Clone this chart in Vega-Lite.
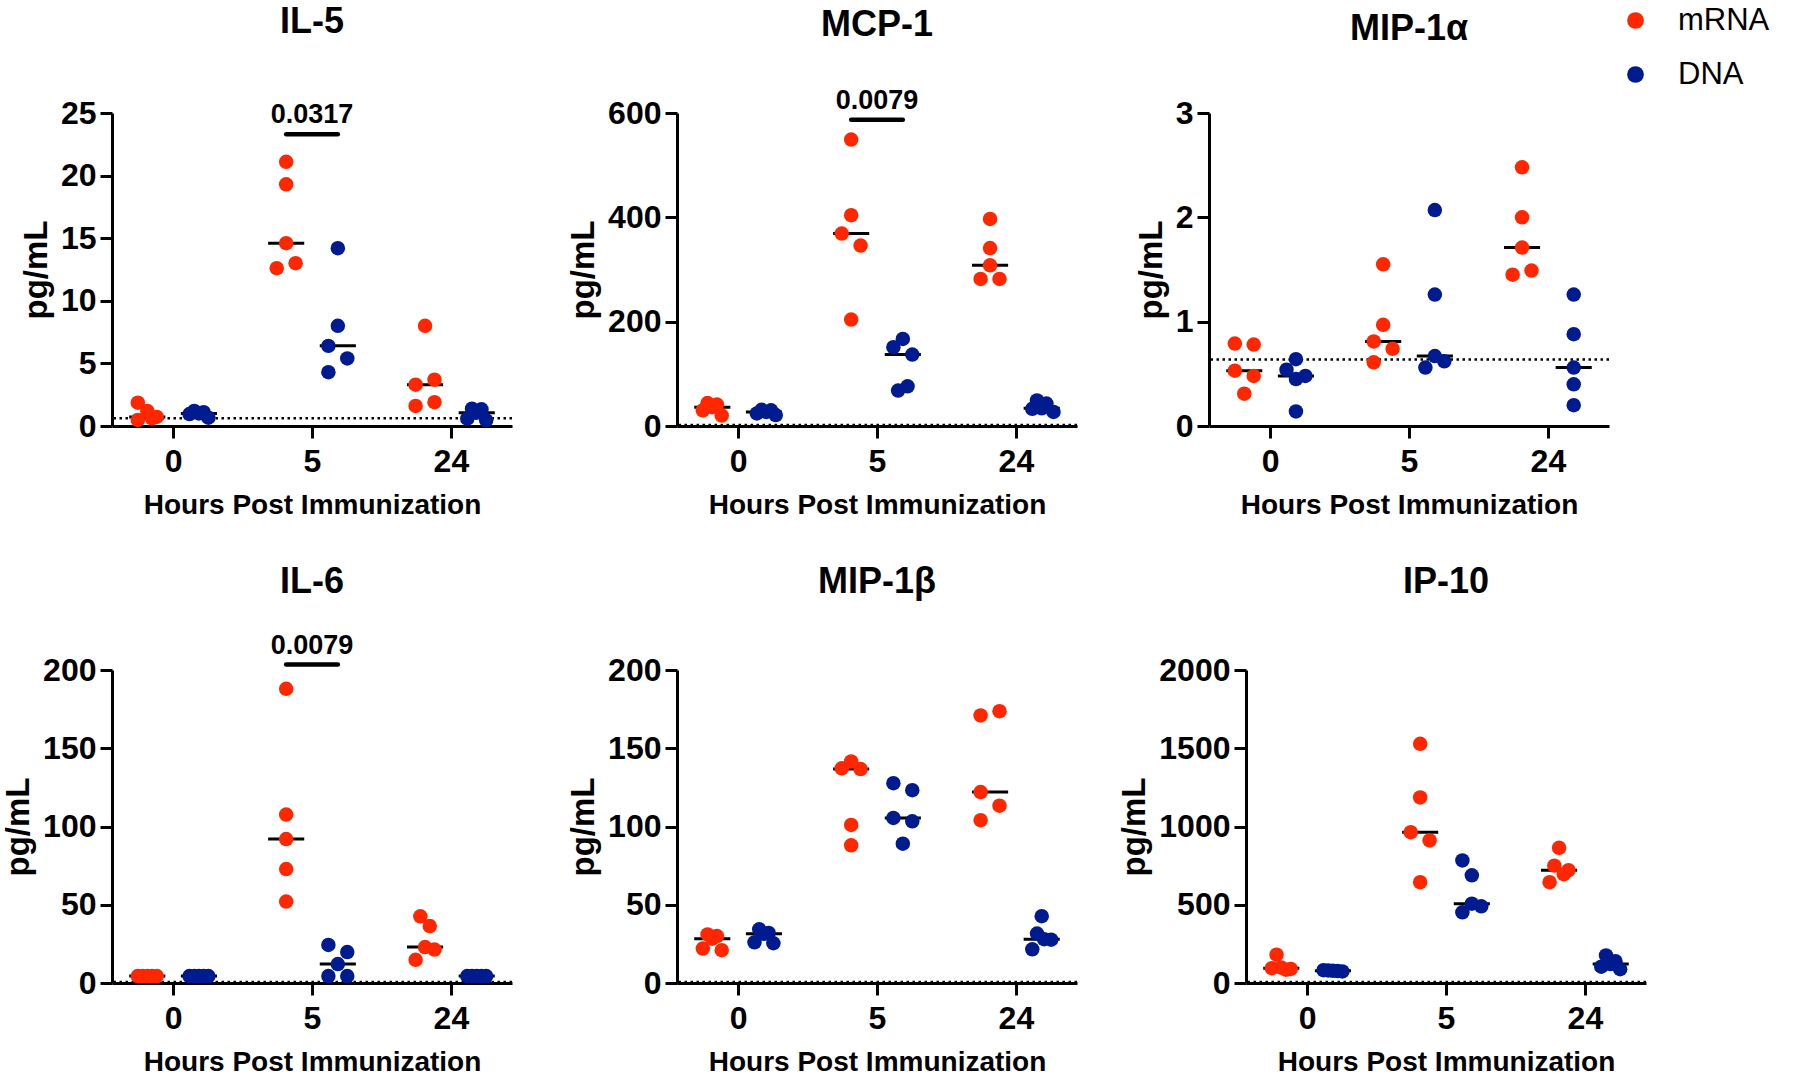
{
  "$schema": "https://vega.github.io/schema/vega-lite/v6.json",
  "background": "white",
  "padding": {"left": 2, "top": 4, "right": 0, "bottom": 0},
  "config": {
    "view": {"stroke": null},
    "font": "Liberation Sans",
    "axis": {"domainColor": "black", "domainWidth": 3, "tickColor": "black", "tickWidth": 3, "tickSize": 12, "labelColor": "black", "labelFont": "Liberation Sans", "labelFontSize": 32, "labelFontWeight": "bold", "titleColor": "black", "titleFont": "Liberation Sans", "titleFontWeight": "bold", "grid": false},
    "axisX": {"labelPadding": 8, "titlePadding": 14, "labelAngle": 0, "titleFontSize": 28},
    "axisY": {"labelPadding": 4, "titlePadding": 7, "titleFontSize": 33, "format": "d"},
    "title": {"font": "Liberation Sans", "fontSize": 36, "fontWeight": "bold", "color": "black", "anchor": "middle", "frame": "group", "baseline": "alphabetic"}
  },
  "datasets": {
    "pts": [
      {"panel": "IL-5", "hour": 0, "group": "mRNA", "v": 1.86, "lane": -2},
      {"panel": "IL-5", "hour": 0, "group": "mRNA", "v": 1.2, "lane": 0},
      {"panel": "IL-5", "hour": 0, "group": "mRNA", "v": 0.48, "lane": -2},
      {"panel": "IL-5", "hour": 0, "group": "mRNA", "v": 0.61, "lane": 1},
      {"panel": "IL-5", "hour": 0, "group": "mRNA", "v": 0.72, "lane": 2},
      {"panel": "IL-5", "hour": 0, "group": "DNA", "v": 1.2, "lane": -1},
      {"panel": "IL-5", "hour": 0, "group": "DNA", "v": 1.1, "lane": 1},
      {"panel": "IL-5", "hour": 0, "group": "DNA", "v": 1.0, "lane": 0},
      {"panel": "IL-5", "hour": 0, "group": "DNA", "v": 0.95, "lane": -2},
      {"panel": "IL-5", "hour": 0, "group": "DNA", "v": 0.66, "lane": 2},
      {"panel": "IL-5", "hour": 5, "group": "mRNA", "v": 21.1, "lane": 0},
      {"panel": "IL-5", "hour": 5, "group": "mRNA", "v": 19.3, "lane": 0},
      {"panel": "IL-5", "hour": 5, "group": "mRNA", "v": 14.6, "lane": 0},
      {"panel": "IL-5", "hour": 5, "group": "mRNA", "v": 12.6, "lane": -2},
      {"panel": "IL-5", "hour": 5, "group": "mRNA", "v": 13.0, "lane": 2},
      {"panel": "IL-5", "hour": 5, "group": "DNA", "v": 14.2, "lane": 0},
      {"panel": "IL-5", "hour": 5, "group": "DNA", "v": 8.0, "lane": 0},
      {"panel": "IL-5", "hour": 5, "group": "DNA", "v": 6.4, "lane": -2},
      {"panel": "IL-5", "hour": 5, "group": "DNA", "v": 5.4, "lane": 2},
      {"panel": "IL-5", "hour": 5, "group": "DNA", "v": 4.3, "lane": -2},
      {"panel": "IL-5", "hour": 24, "group": "mRNA", "v": 8.0, "lane": 0},
      {"panel": "IL-5", "hour": 24, "group": "mRNA", "v": 3.3, "lane": -2},
      {"panel": "IL-5", "hour": 24, "group": "mRNA", "v": 3.7, "lane": 2},
      {"panel": "IL-5", "hour": 24, "group": "mRNA", "v": 1.6, "lane": -2},
      {"panel": "IL-5", "hour": 24, "group": "mRNA", "v": 1.9, "lane": 2},
      {"panel": "IL-5", "hour": 24, "group": "DNA", "v": 1.38, "lane": -1},
      {"panel": "IL-5", "hour": 24, "group": "DNA", "v": 1.33, "lane": 1},
      {"panel": "IL-5", "hour": 24, "group": "DNA", "v": 1.06, "lane": 0},
      {"panel": "IL-5", "hour": 24, "group": "DNA", "v": 0.58, "lane": -2},
      {"panel": "IL-5", "hour": 24, "group": "DNA", "v": 0.45, "lane": 2},

      {"panel": "MCP-1", "hour": 0, "group": "mRNA", "v": 44, "lane": -1},
      {"panel": "MCP-1", "hour": 0, "group": "mRNA", "v": 41, "lane": 1},
      {"panel": "MCP-1", "hour": 0, "group": "mRNA", "v": 36, "lane": 0},
      {"panel": "MCP-1", "hour": 0, "group": "mRNA", "v": 30, "lane": -2},
      {"panel": "MCP-1", "hour": 0, "group": "mRNA", "v": 20, "lane": 2},
      {"panel": "MCP-1", "hour": 0, "group": "DNA", "v": 31, "lane": -0.5},
      {"panel": "MCP-1", "hour": 0, "group": "DNA", "v": 30, "lane": 1.5},
      {"panel": "MCP-1", "hour": 0, "group": "DNA", "v": 27, "lane": 0.5},
      {"panel": "MCP-1", "hour": 0, "group": "DNA", "v": 24, "lane": -1.5},
      {"panel": "MCP-1", "hour": 0, "group": "DNA", "v": 21, "lane": 2.5},
      {"panel": "MCP-1", "hour": 5, "group": "mRNA", "v": 549, "lane": 0},
      {"panel": "MCP-1", "hour": 5, "group": "mRNA", "v": 404, "lane": 0},
      {"panel": "MCP-1", "hour": 5, "group": "mRNA", "v": 369, "lane": -2},
      {"panel": "MCP-1", "hour": 5, "group": "mRNA", "v": 346, "lane": 2},
      {"panel": "MCP-1", "hour": 5, "group": "mRNA", "v": 204, "lane": 0},
      {"panel": "MCP-1", "hour": 5, "group": "DNA", "v": 167, "lane": 0},
      {"panel": "MCP-1", "hour": 5, "group": "DNA", "v": 151, "lane": -2},
      {"panel": "MCP-1", "hour": 5, "group": "DNA", "v": 137, "lane": 2},
      {"panel": "MCP-1", "hour": 5, "group": "DNA", "v": 76, "lane": 1},
      {"panel": "MCP-1", "hour": 5, "group": "DNA", "v": 68, "lane": -1},
      {"panel": "MCP-1", "hour": 24, "group": "mRNA", "v": 397, "lane": 0},
      {"panel": "MCP-1", "hour": 24, "group": "mRNA", "v": 341, "lane": 0},
      {"panel": "MCP-1", "hour": 24, "group": "mRNA", "v": 308, "lane": 0},
      {"panel": "MCP-1", "hour": 24, "group": "mRNA", "v": 282, "lane": -2},
      {"panel": "MCP-1", "hour": 24, "group": "mRNA", "v": 282, "lane": 2},
      {"panel": "MCP-1", "hour": 24, "group": "DNA", "v": 49, "lane": -1},
      {"panel": "MCP-1", "hour": 24, "group": "DNA", "v": 43, "lane": 1},
      {"panel": "MCP-1", "hour": 24, "group": "DNA", "v": 34, "lane": 0},
      {"panel": "MCP-1", "hour": 24, "group": "DNA", "v": 33, "lane": -2},
      {"panel": "MCP-1", "hour": 24, "group": "DNA", "v": 27, "lane": 2.5},

      {"panel": "MIP-1α", "hour": 0, "group": "mRNA", "v": 0.79, "lane": -2},
      {"panel": "MIP-1α", "hour": 0, "group": "mRNA", "v": 0.78, "lane": 2},
      {"panel": "MIP-1α", "hour": 0, "group": "mRNA", "v": 0.53, "lane": -2},
      {"panel": "MIP-1α", "hour": 0, "group": "mRNA", "v": 0.48, "lane": 2},
      {"panel": "MIP-1α", "hour": 0, "group": "mRNA", "v": 0.31, "lane": 0},
      {"panel": "MIP-1α", "hour": 0, "group": "DNA", "v": 0.64, "lane": 0},
      {"panel": "MIP-1α", "hour": 0, "group": "DNA", "v": 0.54, "lane": -2},
      {"panel": "MIP-1α", "hour": 0, "group": "DNA", "v": 0.48, "lane": 2},
      {"panel": "MIP-1α", "hour": 0, "group": "DNA", "v": 0.45, "lane": 0},
      {"panel": "MIP-1α", "hour": 0, "group": "DNA", "v": 0.14, "lane": 0},
      {"panel": "MIP-1α", "hour": 5, "group": "mRNA", "v": 1.55, "lane": 0},
      {"panel": "MIP-1α", "hour": 5, "group": "mRNA", "v": 0.97, "lane": 0},
      {"panel": "MIP-1α", "hour": 5, "group": "mRNA", "v": 0.81, "lane": -2},
      {"panel": "MIP-1α", "hour": 5, "group": "mRNA", "v": 0.74, "lane": 2},
      {"panel": "MIP-1α", "hour": 5, "group": "mRNA", "v": 0.61, "lane": -2},
      {"panel": "MIP-1α", "hour": 5, "group": "DNA", "v": 2.07, "lane": 0},
      {"panel": "MIP-1α", "hour": 5, "group": "DNA", "v": 1.26, "lane": 0},
      {"panel": "MIP-1α", "hour": 5, "group": "DNA", "v": 0.67, "lane": 0},
      {"panel": "MIP-1α", "hour": 5, "group": "DNA", "v": 0.62, "lane": 2},
      {"panel": "MIP-1α", "hour": 5, "group": "DNA", "v": 0.56, "lane": -2},
      {"panel": "MIP-1α", "hour": 24, "group": "mRNA", "v": 2.48, "lane": 0},
      {"panel": "MIP-1α", "hour": 24, "group": "mRNA", "v": 2.0, "lane": 0},
      {"panel": "MIP-1α", "hour": 24, "group": "mRNA", "v": 1.71, "lane": 0},
      {"panel": "MIP-1α", "hour": 24, "group": "mRNA", "v": 1.45, "lane": -2},
      {"panel": "MIP-1α", "hour": 24, "group": "mRNA", "v": 1.49, "lane": 2},
      {"panel": "MIP-1α", "hour": 24, "group": "DNA", "v": 1.26, "lane": 0},
      {"panel": "MIP-1α", "hour": 24, "group": "DNA", "v": 0.88, "lane": 0},
      {"panel": "MIP-1α", "hour": 24, "group": "DNA", "v": 0.56, "lane": 0},
      {"panel": "MIP-1α", "hour": 24, "group": "DNA", "v": 0.40, "lane": 0},
      {"panel": "MIP-1α", "hour": 24, "group": "DNA", "v": 0.20, "lane": 0},

      {"panel": "IL-6", "hour": 0, "group": "mRNA", "v": 4.4, "lane": -2},
      {"panel": "IL-6", "hour": 0, "group": "mRNA", "v": 4.4, "lane": -1},
      {"panel": "IL-6", "hour": 0, "group": "mRNA", "v": 4.4, "lane": 0},
      {"panel": "IL-6", "hour": 0, "group": "mRNA", "v": 4.4, "lane": 1},
      {"panel": "IL-6", "hour": 0, "group": "mRNA", "v": 4.4, "lane": 2},
      {"panel": "IL-6", "hour": 0, "group": "DNA", "v": 4.4, "lane": -2},
      {"panel": "IL-6", "hour": 0, "group": "DNA", "v": 4.4, "lane": -1},
      {"panel": "IL-6", "hour": 0, "group": "DNA", "v": 4.4, "lane": 0},
      {"panel": "IL-6", "hour": 0, "group": "DNA", "v": 4.4, "lane": 1},
      {"panel": "IL-6", "hour": 0, "group": "DNA", "v": 4.4, "lane": 2},
      {"panel": "IL-6", "hour": 5, "group": "mRNA", "v": 188, "lane": 0},
      {"panel": "IL-6", "hour": 5, "group": "mRNA", "v": 107.6, "lane": 0},
      {"panel": "IL-6", "hour": 5, "group": "mRNA", "v": 92, "lane": 0},
      {"panel": "IL-6", "hour": 5, "group": "mRNA", "v": 72.8, "lane": 0},
      {"panel": "IL-6", "hour": 5, "group": "mRNA", "v": 52, "lane": 0},
      {"panel": "IL-6", "hour": 5, "group": "DNA", "v": 24.3, "lane": -2},
      {"panel": "IL-6", "hour": 5, "group": "DNA", "v": 19.8, "lane": 2},
      {"panel": "IL-6", "hour": 5, "group": "DNA", "v": 12.1, "lane": 0},
      {"panel": "IL-6", "hour": 5, "group": "DNA", "v": 4.4, "lane": -2},
      {"panel": "IL-6", "hour": 5, "group": "DNA", "v": 4.4, "lane": 2},
      {"panel": "IL-6", "hour": 24, "group": "mRNA", "v": 42.6, "lane": -1},
      {"panel": "IL-6", "hour": 24, "group": "mRNA", "v": 36.4, "lane": 1},
      {"panel": "IL-6", "hour": 24, "group": "mRNA", "v": 23, "lane": 0},
      {"panel": "IL-6", "hour": 24, "group": "mRNA", "v": 21.4, "lane": 2},
      {"panel": "IL-6", "hour": 24, "group": "mRNA", "v": 14.8, "lane": -2},
      {"panel": "IL-6", "hour": 24, "group": "DNA", "v": 4.4, "lane": -2},
      {"panel": "IL-6", "hour": 24, "group": "DNA", "v": 4.4, "lane": -1},
      {"panel": "IL-6", "hour": 24, "group": "DNA", "v": 4.4, "lane": 0},
      {"panel": "IL-6", "hour": 24, "group": "DNA", "v": 4.4, "lane": 1},
      {"panel": "IL-6", "hour": 24, "group": "DNA", "v": 4.4, "lane": 2},

      {"panel": "MIP-1β", "hour": 0, "group": "mRNA", "v": 31, "lane": -1},
      {"panel": "MIP-1β", "hour": 0, "group": "mRNA", "v": 30, "lane": 1},
      {"panel": "MIP-1β", "hour": 0, "group": "mRNA", "v": 28.3, "lane": 0},
      {"panel": "MIP-1β", "hour": 0, "group": "mRNA", "v": 22, "lane": -2},
      {"panel": "MIP-1β", "hour": 0, "group": "mRNA", "v": 21, "lane": 2},
      {"panel": "MIP-1β", "hour": 0, "group": "DNA", "v": 34.3, "lane": -1},
      {"panel": "MIP-1β", "hour": 0, "group": "DNA", "v": 32, "lane": 1},
      {"panel": "MIP-1β", "hour": 0, "group": "DNA", "v": 31.4, "lane": 0},
      {"panel": "MIP-1β", "hour": 0, "group": "DNA", "v": 26, "lane": -2},
      {"panel": "MIP-1β", "hour": 0, "group": "DNA", "v": 25.4, "lane": 2},
      {"panel": "MIP-1β", "hour": 5, "group": "mRNA", "v": 141.6, "lane": 0},
      {"panel": "MIP-1β", "hour": 5, "group": "mRNA", "v": 137.2, "lane": -2},
      {"panel": "MIP-1β", "hour": 5, "group": "mRNA", "v": 136.7, "lane": 2},
      {"panel": "MIP-1β", "hour": 5, "group": "mRNA", "v": 101, "lane": 0},
      {"panel": "MIP-1β", "hour": 5, "group": "mRNA", "v": 88, "lane": 0},
      {"panel": "MIP-1β", "hour": 5, "group": "DNA", "v": 127.7, "lane": -2},
      {"panel": "MIP-1β", "hour": 5, "group": "DNA", "v": 123.2, "lane": 2},
      {"panel": "MIP-1β", "hour": 5, "group": "DNA", "v": 105.5, "lane": -2},
      {"panel": "MIP-1β", "hour": 5, "group": "DNA", "v": 103.3, "lane": 2},
      {"panel": "MIP-1β", "hour": 5, "group": "DNA", "v": 89, "lane": 0},
      {"panel": "MIP-1β", "hour": 24, "group": "mRNA", "v": 173.7, "lane": 2},
      {"panel": "MIP-1β", "hour": 24, "group": "mRNA", "v": 171, "lane": -2},
      {"panel": "MIP-1β", "hour": 24, "group": "mRNA", "v": 122, "lane": -2},
      {"panel": "MIP-1β", "hour": 24, "group": "mRNA", "v": 113.3, "lane": 2},
      {"panel": "MIP-1β", "hour": 24, "group": "mRNA", "v": 104, "lane": -2},
      {"panel": "MIP-1β", "hour": 24, "group": "DNA", "v": 42.7, "lane": 0},
      {"panel": "MIP-1β", "hour": 24, "group": "DNA", "v": 31.6, "lane": -1},
      {"panel": "MIP-1β", "hour": 24, "group": "DNA", "v": 28, "lane": 0.5},
      {"panel": "MIP-1β", "hour": 24, "group": "DNA", "v": 27.7, "lane": 2},
      {"panel": "MIP-1β", "hour": 24, "group": "DNA", "v": 21.5, "lane": -2},

      {"panel": "IP-10", "hour": 0, "group": "mRNA", "v": 181, "lane": -1},
      {"panel": "IP-10", "hour": 0, "group": "mRNA", "v": 99, "lane": 0},
      {"panel": "IP-10", "hour": 0, "group": "mRNA", "v": 95, "lane": -2},
      {"panel": "IP-10", "hour": 0, "group": "mRNA", "v": 90, "lane": 2},
      {"panel": "IP-10", "hour": 0, "group": "mRNA", "v": 85, "lane": 1},
      {"panel": "IP-10", "hour": 0, "group": "DNA", "v": 82, "lane": -2},
      {"panel": "IP-10", "hour": 0, "group": "DNA", "v": 80, "lane": -1},
      {"panel": "IP-10", "hour": 0, "group": "DNA", "v": 78, "lane": 0},
      {"panel": "IP-10", "hour": 0, "group": "DNA", "v": 76, "lane": 1},
      {"panel": "IP-10", "hour": 0, "group": "DNA", "v": 74, "lane": 2},
      {"panel": "IP-10", "hour": 5, "group": "mRNA", "v": 1528, "lane": 0},
      {"panel": "IP-10", "hour": 5, "group": "mRNA", "v": 1186, "lane": 0},
      {"panel": "IP-10", "hour": 5, "group": "mRNA", "v": 964, "lane": -2},
      {"panel": "IP-10", "hour": 5, "group": "mRNA", "v": 911, "lane": 2},
      {"panel": "IP-10", "hour": 5, "group": "mRNA", "v": 644, "lane": 0},
      {"panel": "IP-10", "hour": 5, "group": "DNA", "v": 783, "lane": -2},
      {"panel": "IP-10", "hour": 5, "group": "DNA", "v": 688, "lane": 0},
      {"panel": "IP-10", "hour": 5, "group": "DNA", "v": 507, "lane": 0},
      {"panel": "IP-10", "hour": 5, "group": "DNA", "v": 490, "lane": 2},
      {"panel": "IP-10", "hour": 5, "group": "DNA", "v": 452, "lane": -2},
      {"panel": "IP-10", "hour": 24, "group": "mRNA", "v": 864, "lane": 0},
      {"panel": "IP-10", "hour": 24, "group": "mRNA", "v": 750, "lane": -1},
      {"panel": "IP-10", "hour": 24, "group": "mRNA", "v": 721, "lane": 2},
      {"panel": "IP-10", "hour": 24, "group": "mRNA", "v": 695, "lane": 1},
      {"panel": "IP-10", "hour": 24, "group": "mRNA", "v": 644, "lane": -2},
      {"panel": "IP-10", "hour": 24, "group": "DNA", "v": 176, "lane": -1},
      {"panel": "IP-10", "hour": 24, "group": "DNA", "v": 139, "lane": 1},
      {"panel": "IP-10", "hour": 24, "group": "DNA", "v": 121, "lane": 0},
      {"panel": "IP-10", "hour": 24, "group": "DNA", "v": 104, "lane": -2},
      {"panel": "IP-10", "hour": 24, "group": "DNA", "v": 88, "lane": 2}
    ],
    "lod": [
      {"panel": "IL-5", "v": 0.61},
      {"panel": "MCP-1", "v": 2},
      {"panel": "MIP-1α", "v": 0.637},
      {"panel": "IL-6", "v": 0.7},
      {"panel": "MIP-1β", "v": 0.7},
      {"panel": "IP-10", "v": 7}
    ],
    "sig": [
      {"panel": "IL-5", "hour": 5, "p": "0.0317", "v": 23.3},
      {"panel": "MCP-1", "hour": 5, "p": "0.0079", "v": 587},
      {"panel": "IL-6", "hour": 5, "p": "0.0079", "v": 203.5}
    ]
  },
  "resolve": {"scale": {"color": "independent"}, "legend": {"color": "independent"}},
  "bounds": "flush",
  "spacing": 557,
  "vconcat": [
    {
      "bounds": "flush",
      "spacing": 165,
      "resolve": {"scale": {"color": "independent"}, "legend": {"color": "independent"}},
      "hconcat": [
        {
          "width": 400, "height": 313,
          "title": {"text": "IL-5", "offset": 56},
          "layer": [
            {"data": {"name": "lod"}, "transform": [{"filter": "datum.panel == 'IL-5'"}], "mark": {"type": "rule", "color": "black", "strokeWidth": 2.5, "strokeDash": [2.5, 3.5]}, "encoding": {"y": {"field": "v", "type": "quantitative", "scale": {"domain": [0, 25], "nice": false}}}},
            {"data": {"name": "pts"}, "transform": [{"filter": "datum.panel == 'IL-5'"}, {"aggregate": [{"op": "median", "field": "v", "as": "v"}], "groupby": ["hour", "group"]}, {"calculate": "indexof([0,5,24], datum.hour) + (datum.group == 'mRNA' ? -0.186 : 0.186)", "as": "c"}, {"calculate": "datum.c - 0.13", "as": "xp"}, {"calculate": "datum.c + 0.13", "as": "xe"}], "mark": {"type": "rule", "color": "black", "strokeWidth": 3}, "encoding": {"x": {"field": "xp", "type": "quantitative", "scale": {"domain": [-0.44, 2.44], "nice": false, "zero": false}}, "x2": {"field": "xe"}, "y": {"field": "v", "type": "quantitative", "scale": {"domain": [0, 25], "nice": false}}}},
            {"data": {"name": "pts"}, "transform": [{"filter": "datum.panel == 'IL-5'"}, {"calculate": "indexof([0,5,24], datum.hour) + (datum.group == 'mRNA' ? -0.186 : 0.186) + datum.lane * 0.034", "as": "xp"}], "mark": {"type": "circle", "size": 210, "opacity": 1}, "encoding": {"x": {"field": "xp", "type": "quantitative", "scale": {"domain": [-0.44, 2.44], "nice": false, "zero": false}, "axis": {"title": "Hours Post Immunization", "values": [0, 1, 2], "labelExpr": "datum.value == 0 ? '0' : datum.value == 1 ? '5' : '24'"}}, "y": {"field": "v", "type": "quantitative", "scale": {"domain": [0, 25], "nice": false}, "axis": {"title": "pg/mL", "values": [0, 5, 10, 15, 20, 25]}}, "color": {"field": "group", "type": "nominal", "scale": {"domain": ["mRNA", "DNA"], "range": ["#FF2700", "#001A8F"]}, "legend": null}}},
            {"data": {"name": "sig"}, "transform": [{"filter": "datum.panel == 'IL-5'"}, {"calculate": "indexof([0,5,24], datum.hour) - 0.186", "as": "xp"}, {"calculate": "indexof([0,5,24], datum.hour) + 0.186", "as": "xe"}], "mark": {"type": "rule", "color": "black", "strokeWidth": 4.5, "strokeCap": "round"}, "encoding": {"x": {"field": "xp", "type": "quantitative", "scale": {"domain": [-0.44, 2.44], "nice": false, "zero": false}}, "x2": {"field": "xe"}, "y": {"field": "v", "type": "quantitative", "scale": {"domain": [0, 25], "nice": false}}}},
            {"data": {"name": "sig"}, "transform": [{"filter": "datum.panel == 'IL-5'"}, {"calculate": "indexof([0,5,24], datum.hour)", "as": "xp"}], "mark": {"type": "text", "color": "black", "font": "Liberation Sans", "fontSize": 27, "fontWeight": "bold", "baseline": "middle", "align": "center", "dy": -19}, "encoding": {"x": {"field": "xp", "type": "quantitative", "scale": {"domain": [-0.44, 2.44], "nice": false, "zero": false}}, "y": {"field": "v", "type": "quantitative", "scale": {"domain": [0, 25], "nice": false}}, "text": {"field": "p"}}}
          ]
        },
        {
          "bounds": "flush",
          "spacing": 132,
          "resolve": {"scale": {"color": "independent"}, "legend": {"color": "independent"}},
          "hconcat": [
            {
              "width": 400, "height": 313,
              "title": {"text": "MCP-1", "offset": 43},
              "layer": [
                {"data": {"name": "lod"}, "transform": [{"filter": "datum.panel == 'MCP-1'"}], "mark": {"type": "rule", "color": "black", "strokeWidth": 2.5, "strokeDash": [2.5, 3.5]}, "encoding": {"y": {"field": "v", "type": "quantitative", "scale": {"domain": [0, 600], "nice": false}}}},
                {"data": {"name": "pts"}, "transform": [{"filter": "datum.panel == 'MCP-1'"}, {"aggregate": [{"op": "median", "field": "v", "as": "v"}], "groupby": ["hour", "group"]}, {"calculate": "indexof([0,5,24], datum.hour) + (datum.group == 'mRNA' ? -0.186 : 0.186)", "as": "c"}, {"calculate": "datum.c - 0.13", "as": "xp"}, {"calculate": "datum.c + 0.13", "as": "xe"}], "mark": {"type": "rule", "color": "black", "strokeWidth": 3}, "encoding": {"x": {"field": "xp", "type": "quantitative", "scale": {"domain": [-0.44, 2.44], "nice": false, "zero": false}}, "x2": {"field": "xe"}, "y": {"field": "v", "type": "quantitative", "scale": {"domain": [0, 600], "nice": false}}}},
                {"data": {"name": "pts"}, "transform": [{"filter": "datum.panel == 'MCP-1'"}, {"calculate": "indexof([0,5,24], datum.hour) + (datum.group == 'mRNA' ? -0.186 : 0.186) + datum.lane * 0.034", "as": "xp"}], "mark": {"type": "circle", "size": 210, "opacity": 1}, "encoding": {"x": {"field": "xp", "type": "quantitative", "scale": {"domain": [-0.44, 2.44], "nice": false, "zero": false}, "axis": {"title": "Hours Post Immunization", "values": [0, 1, 2], "labelExpr": "datum.value == 0 ? '0' : datum.value == 1 ? '5' : '24'"}}, "y": {"field": "v", "type": "quantitative", "scale": {"domain": [0, 600], "nice": false}, "axis": {"title": "pg/mL", "values": [0, 200, 400, 600]}}, "color": {"field": "group", "type": "nominal", "scale": {"domain": ["mRNA", "DNA"], "range": ["#FF2700", "#001A8F"]}, "legend": null}}},
                {"data": {"name": "sig"}, "transform": [{"filter": "datum.panel == 'MCP-1'"}, {"calculate": "indexof([0,5,24], datum.hour) - 0.186", "as": "xp"}, {"calculate": "indexof([0,5,24], datum.hour) + 0.186", "as": "xe"}], "mark": {"type": "rule", "color": "black", "strokeWidth": 4.5, "strokeCap": "round"}, "encoding": {"x": {"field": "xp", "type": "quantitative", "scale": {"domain": [-0.44, 2.44], "nice": false, "zero": false}}, "x2": {"field": "xe"}, "y": {"field": "v", "type": "quantitative", "scale": {"domain": [0, 600], "nice": false}}}},
                {"data": {"name": "sig"}, "transform": [{"filter": "datum.panel == 'MCP-1'"}, {"calculate": "indexof([0,5,24], datum.hour)", "as": "xp"}], "mark": {"type": "text", "color": "black", "font": "Liberation Sans", "fontSize": 27, "fontWeight": "bold", "baseline": "middle", "align": "center", "dy": -19}, "encoding": {"x": {"field": "xp", "type": "quantitative", "scale": {"domain": [-0.44, 2.44], "nice": false, "zero": false}}, "y": {"field": "v", "type": "quantitative", "scale": {"domain": [0, 600], "nice": false}}, "text": {"field": "p"}}}
              ]
            },
            {
              "width": 400, "height": 313,
              "title": {"text": "MIP-1α", "offset": -43},
              "layer": [
                {"data": {"name": "lod"}, "transform": [{"filter": "datum.panel == 'MIP-1α'"}], "mark": {"type": "rule", "color": "black", "strokeWidth": 2.5, "strokeDash": [2.5, 3.5]}, "encoding": {"y": {"field": "v", "type": "quantitative", "scale": {"domain": [0, 3], "nice": false}}}},
                {"data": {"name": "pts"}, "transform": [{"filter": "datum.panel == 'MIP-1α'"}, {"aggregate": [{"op": "median", "field": "v", "as": "v"}], "groupby": ["hour", "group"]}, {"calculate": "indexof([0,5,24], datum.hour) + (datum.group == 'mRNA' ? -0.186 : 0.186)", "as": "c"}, {"calculate": "datum.c - 0.13", "as": "xp"}, {"calculate": "datum.c + 0.13", "as": "xe"}], "mark": {"type": "rule", "color": "black", "strokeWidth": 3}, "encoding": {"x": {"field": "xp", "type": "quantitative", "scale": {"domain": [-0.44, 2.44], "nice": false, "zero": false}}, "x2": {"field": "xe"}, "y": {"field": "v", "type": "quantitative", "scale": {"domain": [0, 3], "nice": false}}}},
                {"data": {"name": "pts"}, "transform": [{"filter": "datum.panel == 'MIP-1α'"}, {"calculate": "indexof([0,5,24], datum.hour) + (datum.group == 'mRNA' ? -0.186 : 0.186) + datum.lane * 0.034", "as": "xp"}], "mark": {"type": "circle", "size": 210, "opacity": 1}, "encoding": {"x": {"field": "xp", "type": "quantitative", "scale": {"domain": [-0.44, 2.44], "nice": false, "zero": false}, "axis": {"title": "Hours Post Immunization", "values": [0, 1, 2], "labelExpr": "datum.value == 0 ? '0' : datum.value == 1 ? '5' : '24'"}}, "y": {"field": "v", "type": "quantitative", "scale": {"domain": [0, 3], "nice": false}, "axis": {"title": "pg/mL", "values": [0, 1, 2, 3]}}, "color": {"field": "group", "type": "nominal", "scale": {"domain": ["mRNA", "DNA"], "range": ["#FF2700", "#001A8F"]}, "legend": {"orient": "none", "legendX": 411, "legendY": -108, "title": null, "symbolType": "circle", "symbolSize": 280, "symbolStrokeWidth": 0, "labelFont": "Liberation Sans", "labelFontSize": 31, "labelColor": "black", "labelOffset": 27, "rowPadding": 22, "padding": 0}}}},
                {"data": {"name": "sig"}, "transform": [{"filter": "datum.panel == 'MIP-1α'"}, {"calculate": "indexof([0,5,24], datum.hour) - 0.186", "as": "xp"}, {"calculate": "indexof([0,5,24], datum.hour) + 0.186", "as": "xe"}], "mark": {"type": "rule", "color": "black", "strokeWidth": 4.5, "strokeCap": "round"}, "encoding": {"x": {"field": "xp", "type": "quantitative", "scale": {"domain": [-0.44, 2.44], "nice": false, "zero": false}}, "x2": {"field": "xe"}, "y": {"field": "v", "type": "quantitative", "scale": {"domain": [0, 3], "nice": false}}}}
              ]
            }
          ]
        }
      ]
    },
    {
      "bounds": "flush",
      "spacing": 165,
      "resolve": {"scale": {"color": "independent"}, "legend": {"color": "independent"}},
      "hconcat": [
        {
          "width": 400, "height": 313,
          "title": {"text": "IL-6", "offset": 31},
          "layer": [
            {"data": {"name": "lod"}, "transform": [{"filter": "datum.panel == 'IL-6'"}], "mark": {"type": "rule", "color": "black", "strokeWidth": 2.5, "strokeDash": [2.5, 3.5]}, "encoding": {"y": {"field": "v", "type": "quantitative", "scale": {"domain": [0, 200], "nice": false}}}},
            {"data": {"name": "pts"}, "transform": [{"filter": "datum.panel == 'IL-6'"}, {"aggregate": [{"op": "median", "field": "v", "as": "v"}], "groupby": ["hour", "group"]}, {"calculate": "indexof([0,5,24], datum.hour) + (datum.group == 'mRNA' ? -0.186 : 0.186)", "as": "c"}, {"calculate": "datum.c - 0.13", "as": "xp"}, {"calculate": "datum.c + 0.13", "as": "xe"}], "mark": {"type": "rule", "color": "black", "strokeWidth": 3}, "encoding": {"x": {"field": "xp", "type": "quantitative", "scale": {"domain": [-0.44, 2.44], "nice": false, "zero": false}}, "x2": {"field": "xe"}, "y": {"field": "v", "type": "quantitative", "scale": {"domain": [0, 200], "nice": false}}}},
            {"data": {"name": "pts"}, "transform": [{"filter": "datum.panel == 'IL-6'"}, {"calculate": "indexof([0,5,24], datum.hour) + (datum.group == 'mRNA' ? -0.186 : 0.186) + datum.lane * 0.034", "as": "xp"}], "mark": {"type": "circle", "size": 210, "opacity": 1}, "encoding": {"x": {"field": "xp", "type": "quantitative", "scale": {"domain": [-0.44, 2.44], "nice": false, "zero": false}, "axis": {"title": "Hours Post Immunization", "values": [0, 1, 2], "labelExpr": "datum.value == 0 ? '0' : datum.value == 1 ? '5' : '24'"}}, "y": {"field": "v", "type": "quantitative", "scale": {"domain": [0, 200], "nice": false}, "axis": {"title": "pg/mL", "values": [0, 50, 100, 150, 200]}}, "color": {"field": "group", "type": "nominal", "scale": {"domain": ["mRNA", "DNA"], "range": ["#FF2700", "#001A8F"]}, "legend": null}}},
            {"data": {"name": "sig"}, "transform": [{"filter": "datum.panel == 'IL-6'"}, {"calculate": "indexof([0,5,24], datum.hour) - 0.186", "as": "xp"}, {"calculate": "indexof([0,5,24], datum.hour) + 0.186", "as": "xe"}], "mark": {"type": "rule", "color": "black", "strokeWidth": 4.5, "strokeCap": "round"}, "encoding": {"x": {"field": "xp", "type": "quantitative", "scale": {"domain": [-0.44, 2.44], "nice": false, "zero": false}}, "x2": {"field": "xe"}, "y": {"field": "v", "type": "quantitative", "scale": {"domain": [0, 200], "nice": false}}}},
            {"data": {"name": "sig"}, "transform": [{"filter": "datum.panel == 'IL-6'"}, {"calculate": "indexof([0,5,24], datum.hour)", "as": "xp"}], "mark": {"type": "text", "color": "black", "font": "Liberation Sans", "fontSize": 27, "fontWeight": "bold", "baseline": "middle", "align": "center", "dy": -19}, "encoding": {"x": {"field": "xp", "type": "quantitative", "scale": {"domain": [-0.44, 2.44], "nice": false, "zero": false}}, "y": {"field": "v", "type": "quantitative", "scale": {"domain": [0, 200], "nice": false}}, "text": {"field": "p"}}}
          ]
        },
        {
          "bounds": "flush",
          "spacing": 169,
          "resolve": {"scale": {"color": "independent"}, "legend": {"color": "independent"}},
          "hconcat": [
            {
              "width": 400, "height": 313,
              "title": {"text": "MIP-1β", "offset": 53},
              "layer": [
                {"data": {"name": "lod"}, "transform": [{"filter": "datum.panel == 'MIP-1β'"}], "mark": {"type": "rule", "color": "black", "strokeWidth": 2.5, "strokeDash": [2.5, 3.5]}, "encoding": {"y": {"field": "v", "type": "quantitative", "scale": {"domain": [0, 200], "nice": false}}}},
                {"data": {"name": "pts"}, "transform": [{"filter": "datum.panel == 'MIP-1β'"}, {"aggregate": [{"op": "median", "field": "v", "as": "v"}], "groupby": ["hour", "group"]}, {"calculate": "indexof([0,5,24], datum.hour) + (datum.group == 'mRNA' ? -0.186 : 0.186)", "as": "c"}, {"calculate": "datum.c - 0.13", "as": "xp"}, {"calculate": "datum.c + 0.13", "as": "xe"}], "mark": {"type": "rule", "color": "black", "strokeWidth": 3}, "encoding": {"x": {"field": "xp", "type": "quantitative", "scale": {"domain": [-0.44, 2.44], "nice": false, "zero": false}}, "x2": {"field": "xe"}, "y": {"field": "v", "type": "quantitative", "scale": {"domain": [0, 200], "nice": false}}}},
                {"data": {"name": "pts"}, "transform": [{"filter": "datum.panel == 'MIP-1β'"}, {"calculate": "indexof([0,5,24], datum.hour) + (datum.group == 'mRNA' ? -0.186 : 0.186) + datum.lane * 0.034", "as": "xp"}], "mark": {"type": "circle", "size": 210, "opacity": 1}, "encoding": {"x": {"field": "xp", "type": "quantitative", "scale": {"domain": [-0.44, 2.44], "nice": false, "zero": false}, "axis": {"title": "Hours Post Immunization", "values": [0, 1, 2], "labelExpr": "datum.value == 0 ? '0' : datum.value == 1 ? '5' : '24'"}}, "y": {"field": "v", "type": "quantitative", "scale": {"domain": [0, 200], "nice": false}, "axis": {"title": "pg/mL", "values": [0, 50, 100, 150, 200]}}, "color": {"field": "group", "type": "nominal", "scale": {"domain": ["mRNA", "DNA"], "range": ["#FF2700", "#001A8F"]}, "legend": null}}}
              ]
            },
            {
              "width": 400, "height": 313,
              "title": {"text": "IP-10", "offset": 53},
              "layer": [
                {"data": {"name": "lod"}, "transform": [{"filter": "datum.panel == 'IP-10'"}], "mark": {"type": "rule", "color": "black", "strokeWidth": 2.5, "strokeDash": [2.5, 3.5]}, "encoding": {"y": {"field": "v", "type": "quantitative", "scale": {"domain": [0, 2000], "nice": false}}}},
                {"data": {"name": "pts"}, "transform": [{"filter": "datum.panel == 'IP-10'"}, {"aggregate": [{"op": "median", "field": "v", "as": "v"}], "groupby": ["hour", "group"]}, {"calculate": "indexof([0,5,24], datum.hour) + (datum.group == 'mRNA' ? -0.186 : 0.186)", "as": "c"}, {"calculate": "datum.c - 0.13", "as": "xp"}, {"calculate": "datum.c + 0.13", "as": "xe"}], "mark": {"type": "rule", "color": "black", "strokeWidth": 3}, "encoding": {"x": {"field": "xp", "type": "quantitative", "scale": {"domain": [-0.44, 2.44], "nice": false, "zero": false}}, "x2": {"field": "xe"}, "y": {"field": "v", "type": "quantitative", "scale": {"domain": [0, 2000], "nice": false}}}},
                {"data": {"name": "pts"}, "transform": [{"filter": "datum.panel == 'IP-10'"}, {"calculate": "indexof([0,5,24], datum.hour) + (datum.group == 'mRNA' ? -0.186 : 0.186) + datum.lane * 0.034", "as": "xp"}], "mark": {"type": "circle", "size": 210, "opacity": 1}, "encoding": {"x": {"field": "xp", "type": "quantitative", "scale": {"domain": [-0.44, 2.44], "nice": false, "zero": false}, "axis": {"title": "Hours Post Immunization", "values": [0, 1, 2], "labelExpr": "datum.value == 0 ? '0' : datum.value == 1 ? '5' : '24'"}}, "y": {"field": "v", "type": "quantitative", "scale": {"domain": [0, 2000], "nice": false}, "axis": {"title": "pg/mL", "values": [0, 500, 1000, 1500, 2000]}}, "color": {"field": "group", "type": "nominal", "scale": {"domain": ["mRNA", "DNA"], "range": ["#FF2700", "#001A8F"]}, "legend": null}}}
              ]
            }
          ]
        }
      ]
    }
  ]
}
